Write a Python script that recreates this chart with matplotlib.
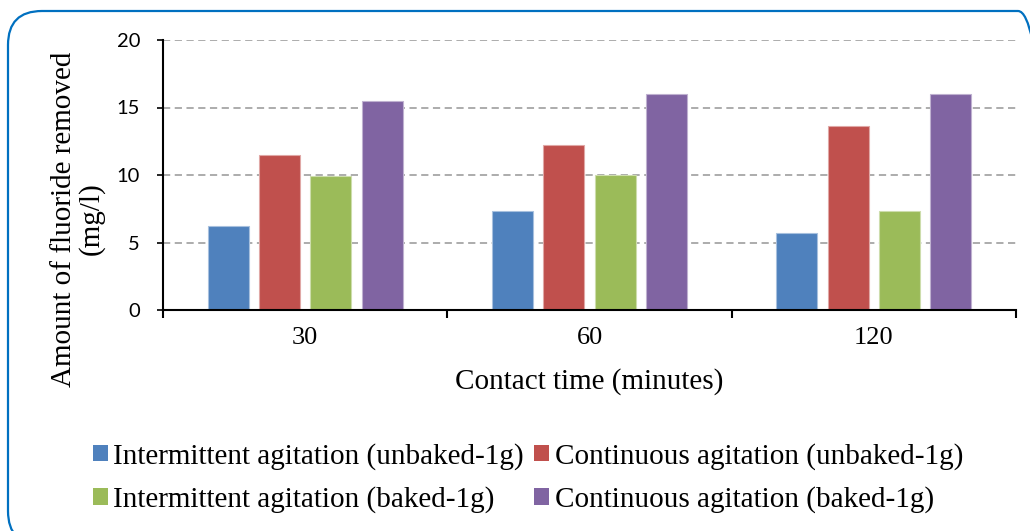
import matplotlib
matplotlib.use("Agg")
import matplotlib.pyplot as plt
import numpy as np
from matplotlib.patches import FancyBboxPatch, Patch

# Data
contact_times = ["30", "60", "120"]
series_names = [
    "Intermittent agitation (unbaked-1g)",
    "Continuous agitation (unbaked-1g)",
    "Intermittent agitation (baked-1g)",
    "Continuous agitation (baked-1g)",
]
intermittent_unbaked = [6.2, 7.3, 5.7]
continuous_unbaked = [11.5, 12.2, 13.6]
intermittent_baked = [9.9, 10.0, 7.3]
continuous_baked = [15.5, 16.0, 16.0]
y_ticks = [0, 5, 10, 15, 20]

series_values = [intermittent_unbaked, continuous_unbaked,
                 intermittent_baked, continuous_baked]
colors = ["#4F81BD", "#C0504D", "#9BBB59", "#8064A2"]
edge_colors = ["#A7C0DE", "#E0A8A6", "#CDDDAC", "#BFB1D0"]

serif = "Liberation Serif"
sans = "Lato"

fig = plt.figure(figsize=(10.30, 5.31), dpi=100)
ax = fig.add_axes([163 / 1030, 1 - 310 / 531, (1016 - 163) / 1030, (310 - 40) / 531])

x = np.arange(len(contact_times))
step = 0.1806
width = 0.144
offsets = (np.arange(len(series_values)) - 1.5) * step
for vals, off, col, ec, name in zip(series_values, offsets, colors, edge_colors, series_names):
    ax.bar(x + off, vals, width=width, color=col, edgecolor=ec, linewidth=0.8,
           label=name, zorder=3)

ax.set_xlim(-0.5, len(contact_times) - 0.5)
ax.set_ylim(0, 20)
ax.set_yticks(y_ticks)
ax.set_yticklabels([str(t) for t in y_ticks], fontfamily=sans, fontsize=14.5)
ax.set_xticks(x)
ax.set_xticklabels(contact_times, fontfamily=serif, fontsize=19)
ax.set_xticks(np.arange(-0.5, len(contact_times)), minor=True)
ax.tick_params(axis="x", which="major", length=0, pad=12)
ax.tick_params(axis="x", which="minor", length=6, width=1.5, direction="out")
ax.tick_params(axis="y", which="major", length=4.5, width=1.2, direction="out", pad=12)

for side in ("top", "right"):
    ax.spines[side].set_visible(False)
for side in ("left", "bottom"):
    ax.spines[side].set_linewidth(1.5)
    ax.spines[side].set_color("black")
    ax.spines[side].set_zorder(4)

ax.yaxis.grid(True, color="#A6A6A6", linestyle=(0, (4, 2.5)), linewidth=1.3, zorder=0)
ax.set_axisbelow(True)

fig.text(78 / 1030, 1 - 219 / 531, "Amount of fluoride removed\n(mg/l)",
         rotation=90, ha="center", va="center", multialignment="center",
         fontfamily=serif, fontsize=21, linespacing=1.05)
fig.text(589 / 1030, 1 - 382 / 531, "Contact time (minutes)",
         ha="center", va="center", fontfamily=serif, fontsize=21)

# Legend laid out row by row: matplotlib fills columns first, so reorder
order = [0, 2, 1, 3]
handles = [Patch(facecolor=colors[i], edgecolor="none") for i in order]
labels = [series_names[i] for i in order]
fig.legend(handles, labels, loc="center", ncol=2,
           bbox_to_anchor=(528 / 1030, 1 - 478 / 531), frameon=False,
           prop={"family": serif, "size": 21},
           handlelength=0.5, handleheight=0.5, handletextpad=0.2,
           columnspacing=0.35, labelspacing=0.56, borderpad=0)

border = FancyBboxPatch((0.08, -0.14), 10.44, 5.34,
                        boxstyle="round,pad=0,rounding_size=0.34",
                        transform=fig.dpi_scale_trans, facecolor="none",
                        edgecolor="#0070C0", linewidth=1.6, clip_on=False)
fig.patches.append(border)

fig.savefig("out.png", dpi=100, facecolor="white")
